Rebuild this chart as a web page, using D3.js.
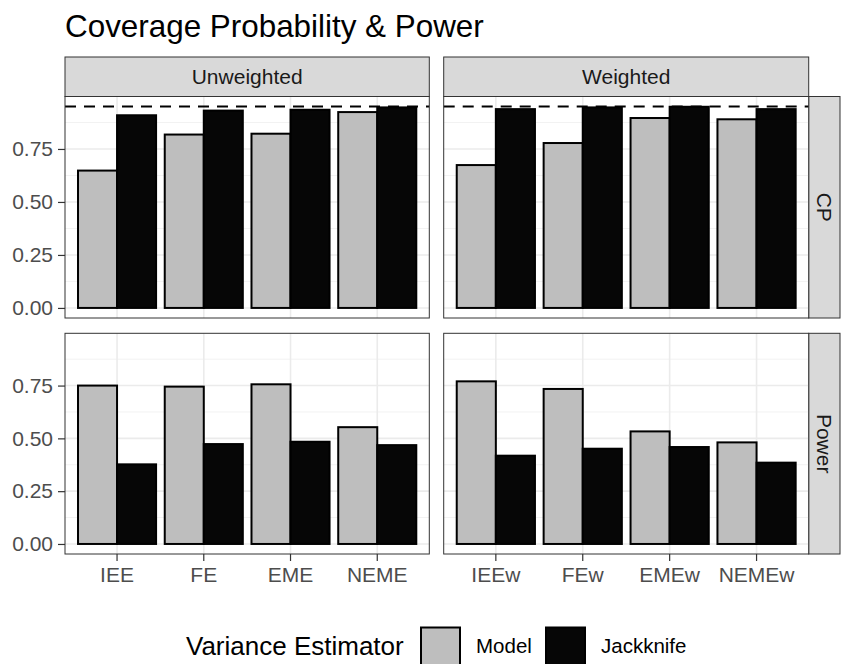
<!DOCTYPE html>
<html>
<head>
<meta charset="utf-8">
<script src="https://cdn.jsdelivr.net/npm/d3@7/dist/d3.min.js"></script>
<style>
  html, body { margin: 0; padding: 0; background: #fff; }
  svg { display: block; font-family: "Liberation Sans", Arial, sans-serif; }
</style>
</head>
<body>
<svg id="chart" width="841" height="664"></svg>
<script>
// ---- data ----
const categoriesUnweighted = ["IEE", "FE", "EME", "NEME"];
const categoriesWeighted = ["IEEw", "FEw", "EMEw", "NEMEw"];
const estimators = ["Model", "Jackknife"];
const columnLabels = ["Unweighted", "Weighted"];
const rowLabels = ["CP", "Power"];

const cpModelUnweighted = [0.648, 0.818, 0.822, 0.924];
const cpJackknifeUnweighted = [0.909, 0.931, 0.935, 0.946];
const cpModelWeighted = [0.674, 0.778, 0.896, 0.890];
const cpJackknifeWeighted = [0.938, 0.946, 0.949, 0.938];
const powerModelUnweighted = [0.750, 0.745, 0.756, 0.553];
const powerJackknifeUnweighted = [0.377, 0.473, 0.484, 0.468];
const powerModelWeighted = [0.770, 0.734, 0.533, 0.481];
const powerJackknifeWeighted = [0.418, 0.451, 0.459, 0.385];

const yTicks = [0, 0.25, 0.5, 0.75];
const yMinorTicks = [0.125, 0.375, 0.625, 0.875];
const referenceLine = 0.95;

const titleText = "Coverage Probability & Power";
const legendTitle = "Variance Estimator";

// ---- layout ----
const svg = d3.select("#chart");
const colX = [[65, 429.3], [443.7, 808.7]];
const rowY = [[96.5, 318], [333.3, 554]];
const stripTop = 57;
const rightStrip = [808.7, 840];
const FONT = '"Liberation Sans", Arial, sans-serif';

const fills = { Model: "#BEBEBE", Jackknife: "#060606" };
const catsByCol = [categoriesUnweighted, categoriesWeighted];
const valuesByPanel = [
  [ { Model: cpModelUnweighted, Jackknife: cpJackknifeUnweighted },
    { Model: cpModelWeighted, Jackknife: cpJackknifeWeighted } ],
  [ { Model: powerModelUnweighted, Jackknife: powerJackknifeUnweighted },
    { Model: powerModelWeighted, Jackknife: powerJackknifeWeighted } ]
];

// title
svg.append("text")
  .attr("x", 65).attr("y", 37)
  .attr("font-size", 31.4).attr("fill", "#000")
  .text(titleText);

// top strips
columnLabels.forEach((lab, c) => {
  const [x0, x1] = colX[c];
  svg.append("rect")
    .attr("x", x0).attr("y", stripTop).attr("width", x1 - x0).attr("height", rowY[0][0] - stripTop)
    .attr("fill", "#D9D9D9").attr("stroke", "#333").attr("stroke-width", 1);
  svg.append("text")
    .attr("x", (x0 + x1) / 2).attr("y", (stripTop + rowY[0][0]) / 2)
    .attr("dy", "0.36em").attr("text-anchor", "middle")
    .attr("font-size", 21).attr("fill", "#1A1A1A").text(lab);
});

// right strips
rowLabels.forEach((lab, r) => {
  const [y0, y1] = rowY[r];
  svg.append("rect")
    .attr("x", rightStrip[0]).attr("y", y0).attr("width", rightStrip[1] - rightStrip[0]).attr("height", y1 - y0)
    .attr("fill", "#D9D9D9").attr("stroke", "#333").attr("stroke-width", 1);
  const cx = (rightStrip[0] + rightStrip[1]) / 2, cy = (y0 + y1) / 2;
  svg.append("text")
    .attr("transform", `translate(${cx},${cy}) rotate(90)`)
    .attr("dy", "0.36em").attr("text-anchor", "middle")
    .attr("font-size", 21).attr("fill", "#1A1A1A").text(lab);
});

// panels
rowY.forEach(([y0, y1], r) => {
  const y = d3.scaleLinear().domain([-0.0475, 0.9975]).range([y1, y0]);
  colX.forEach(([x0, x1], c) => {
    const cats = catsByCol[c];
    const x = d3.scaleBand().domain(cats).range([x0, x1]).paddingInner(0.1).paddingOuter(0.15);
    const xs = d3.scaleBand().domain(estimators).range([0, x.bandwidth()]).padding(0);
    const g = svg.append("g");

    g.append("rect").attr("x", x0).attr("y", y0).attr("width", x1 - x0).attr("height", y1 - y0).attr("fill", "#fff");

    // minor grid
    g.selectAll(".minor").data(yMinorTicks).enter().append("line")
      .attr("x1", x0).attr("x2", x1).attr("y1", d => y(d)).attr("y2", d => y(d))
      .attr("stroke", "#F2F2F2").attr("stroke-width", 1);
    // major grid
    g.selectAll(".majorY").data(yTicks).enter().append("line")
      .attr("x1", x0).attr("x2", x1).attr("y1", d => y(d)).attr("y2", d => y(d))
      .attr("stroke", "#EBEBEB").attr("stroke-width", 1.6);
    g.selectAll(".majorX").data(cats).enter().append("line")
      .attr("x1", d => x(d) + x.bandwidth() / 2).attr("x2", d => x(d) + x.bandwidth() / 2)
      .attr("y1", y0).attr("y2", y1)
      .attr("stroke", "#EBEBEB").attr("stroke-width", 1.6);

    // bars
    const vals = valuesByPanel[r][c];
    const rows = [];
    cats.forEach((cat, i) => estimators.forEach(e => rows.push({ cat, e, v: vals[e][i] })));
    g.selectAll(".bar").data(rows).enter().append("rect")
      .attr("x", d => x(d.cat) + xs(d.e))
      .attr("width", xs.bandwidth())
      .attr("y", d => y(d.v))
      .attr("height", d => y(0) - y(d.v))
      .attr("fill", d => fills[d.e])
      .attr("stroke", "#000").attr("stroke-width", 2);

    // reference line in CP row
    if (r === 0) {
      g.append("line")
        .attr("x1", x0).attr("x2", x1)
        .attr("y1", y(referenceLine)).attr("y2", y(referenceLine))
        .attr("stroke", "#000").attr("stroke-width", 2)
        .attr("stroke-dasharray", "11,8");
    }

    // border
    g.append("rect").attr("x", x0).attr("y", y0).attr("width", x1 - x0).attr("height", y1 - y0)
      .attr("fill", "none").attr("stroke", "#333").attr("stroke-width", 1);

    // y axis (left column)
    if (c === 0) {
      const ax = svg.append("g").attr("transform", `translate(${x0},0)`)
        .call(d3.axisLeft(y).tickValues(yTicks).tickFormat(d3.format(".2f")).tickSize(7).tickPadding(5));
      ax.select(".domain").remove();
      ax.selectAll(".tick line").attr("stroke", "#333").attr("stroke-width", 1.2);
      ax.selectAll(".tick text").attr("fill", "#4D4D4D").attr("font-size", 21)
        .attr("font-family", FONT);
    }
    // x axis (bottom row)
    if (r === 1) {
      const ax = svg.append("g").attr("transform", `translate(0,${y1})`)
        .call(d3.axisBottom(x).tickSize(7).tickPadding(6));
      ax.select(".domain").remove();
      ax.selectAll(".tick line").attr("stroke", "#333").attr("stroke-width", 1.2);
      ax.selectAll(".tick text").attr("fill", "#4D4D4D").attr("font-size", 21)
        .attr("font-family", FONT);
    }
  });
});

// legend
const lg = svg.append("g");
lg.append("text").attr("x", 186).attr("y", 655).attr("font-size", 26).attr("fill", "#000").text(legendTitle);
const keyX = { Model: 421, Jackknife: 546 };
estimators.forEach(e => {
  lg.append("rect").attr("x", keyX[e]).attr("y", 627.5).attr("width", 39).attr("height", 39)
    .attr("fill", fills[e]).attr("stroke", "#000").attr("stroke-width", 2);
  lg.append("text").attr("x", keyX[e] + 55).attr("y", 652.5).attr("font-size", 20.5).attr("fill", "#000").text(e);
});
</script>
</body>
</html>
